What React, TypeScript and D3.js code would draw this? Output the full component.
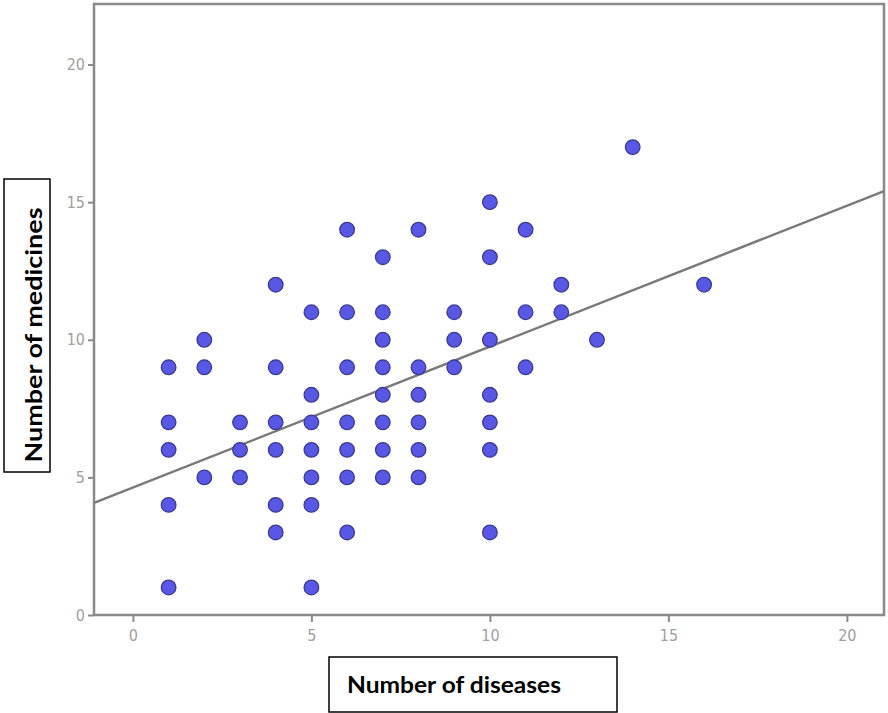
import * as d3 from "d3";
import { useEffect, useRef } from "react";

// number of diseases (x) and number of medicines (y), one entry per dot
const diseases = [
  1, 1, 1, 1, 1,
  2, 2, 2,
  3, 3, 3,
  4, 4, 4, 4, 4, 4,
  5, 5, 5, 5, 5, 5, 5,
  6, 6, 6, 6, 6, 6, 6,
  7, 7, 7, 7, 7, 7, 7, 7,
  8, 8, 8, 8, 8, 8,
  9, 9, 9,
  10, 10, 10, 10, 10, 10, 10,
  11, 11, 11,
  12, 12,
  13,
  14,
  16,
];
const medicines = [
  9, 7, 6, 4, 1,
  10, 9, 5,
  7, 6, 5,
  12, 9, 7, 6, 4, 3,
  11, 8, 7, 6, 5, 4, 1,
  14, 11, 9, 7, 6, 5, 3,
  13, 11, 10, 9, 8, 7, 6, 5,
  14, 9, 8, 7, 6, 5,
  11, 10, 9,
  15, 13, 10, 8, 7, 6, 3,
  14, 11, 9,
  12, 11,
  10,
  17,
  12,
];

const xTicks = [0, 5, 10, 15, 20];
const yTicks = [0, 5, 10, 15, 20];

// fit line
const fitIntercept = 4.63;
const fitSlope = 0.512;

export default function App() {
  const ref = useRef<SVGSVGElement>(null);

  useEffect(() => {
    const width = 888;
    const height = 713;
    const plot = { left: 94, right: 884, top: 4, bottom: 615 };

    const svg = d3.select(ref.current)
      .attr("width", width)
      .attr("height", height);

    svg.selectAll("*").remove();

    const x = d3.scaleLinear().domain([-1.09, 21.04]).range([plot.left, plot.right]);
    const y = d3.scaleLinear().domain([0, 22.2]).range([plot.bottom, plot.top]);

    // frame
    svg.append("rect")
      .attr("x", plot.left)
      .attr("y", plot.top)
      .attr("width", plot.right - plot.left)
      .attr("height", plot.bottom - plot.top)
      .attr("fill", "#fff")
      .attr("stroke", "#8a8a8a")
      .attr("stroke-width", 2.5);

    // Y axis
    const yAxis = svg.append("g")
      .attr("transform", `translate(${plot.left},0)`)
      .call(d3.axisLeft(y).tickValues(yTicks).tickSize(6).tickPadding(3));
    yAxis.select(".domain").remove();

    // X axis
    const xAxis = svg.append("g")
      .attr("transform", `translate(0,${plot.bottom})`)
      .call(d3.axisBottom(x).tickValues(xTicks).tickSize(7).tickPadding(8));
    xAxis.select(".domain").remove();

    svg.selectAll(".tick line")
      .attr("stroke", "#8a8a8a")
      .attr("stroke-width", 2);
    svg.selectAll(".tick text")
      .attr("fill", "#a0a0a0")
      .style("font-family", "'DejaVu Sans Condensed', 'DejaVu Sans', sans-serif")
      .style("font-size", "16px");

    // regression line
    const xd = x.domain();
    svg.append("line")
      .attr("x1", x(xd[0]))
      .attr("y1", y(fitIntercept + fitSlope * xd[0]))
      .attr("x2", x(xd[1]))
      .attr("y2", y(fitIntercept + fitSlope * xd[1]))
      .attr("stroke", "#7a7a7a")
      .attr("stroke-width", 2.5);

    // dots
    svg.selectAll(".dot")
      .data(diseases.map((d, i) => ({ d, m: medicines[i] })))
      .join("circle")
      .classed("dot", true)
      .attr("cx", p => x(p.d))
      .attr("cy", p => y(p.m))
      .attr("r", 7.3)
      .attr("fill", "#5858e4")
      .attr("stroke", "#3a3a96")
      .attr("stroke-width", 1.3);

    // y label box
    svg.append("rect")
      .attr("x", 4).attr("y", 179)
      .attr("width", 46).attr("height", 293)
      .attr("fill", "#fff").attr("stroke", "#000").attr("stroke-width", 1.5);
    svg.append("text")
      .attr("transform", "translate(42,335) rotate(-90)")
      .attr("text-anchor", "middle")
      .attr("textLength", 255)
      .attr("lengthAdjust", "spacingAndGlyphs")
      .style("font-family", "Lato, sans-serif")
      .style("font-weight", "bold")
      .style("font-size", "23px")
      .text("Number of medicines");

    // x label box
    svg.append("rect")
      .attr("x", 329).attr("y", 657)
      .attr("width", 288).attr("height", 55)
      .attr("fill", "#fff").attr("stroke", "#000").attr("stroke-width", 1.5);
    svg.append("text")
      .attr("x", 347).attr("y", 693)
      .attr("textLength", 214)
      .attr("lengthAdjust", "spacingAndGlyphs")
      .style("font-family", "Lato, sans-serif")
      .style("font-weight", "bold")
      .style("font-size", "23px")
      .text("Number of diseases");
  }, []);

  return (
    <div style={{ position: "absolute", left: 0, top: 0 }}>
      <svg ref={ref} style={{ display: "block" }}></svg>
    </div>
  );
}
